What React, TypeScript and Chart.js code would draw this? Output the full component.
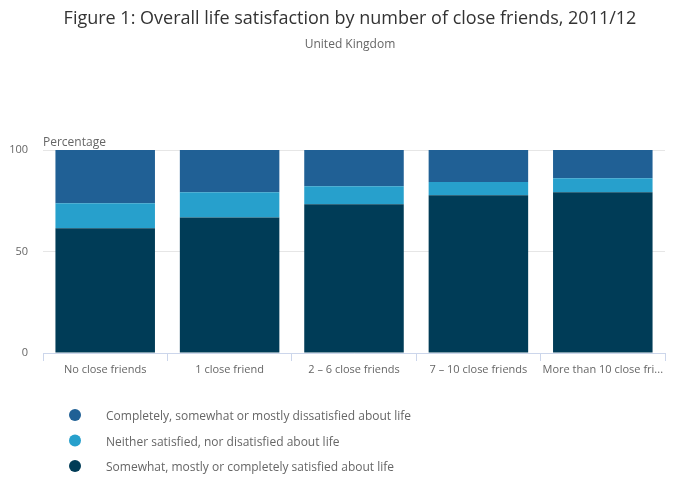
import React, { useEffect, useRef } from "react";
import { Chart, registerables } from "chart.js";

Chart.register(...registerables);

const categories = ["No close friends", "1 close friend", "2 – 6 close friends", "7 – 10 close friends", "More than 10 close friends"];
const satisfied = [61.4, 66.8, 73.3, 77.7, 79.2];
const neither = [12.4, 12.4, 8.9, 6.5, 6.9];
const dissatisfied = [26.2, 20.8, 17.8, 15.8, 13.9];
const seriesNames = [
  "Completely, somewhat or mostly dissatisfied about life",
  "Neither satisfied, nor disatisfied about life",
  "Somewhat, mostly or completely satisfied about life",
];
const seriesColors = ["#206095", "#27a0cc", "#003c57"];
const yTicks = [0, 50, 100];
const title = "Figure 1: Overall life satisfaction by number of close friends, 2011/12";
const subtitle = "United Kingdom";
const yTitle = "Percentage";

const FONT = "'Open Sans', 'Noto Sans', sans-serif";

const decorPlugin = {
  id: "decor",
  afterDraw(chart: any) {
    const ctx = chart.ctx;
    const area = chart.chartArea;
    ctx.save();
    ctx.textAlign = "center";
    ctx.textBaseline = "middle";
    ctx.fillStyle = "#333333";
    ctx.font = `18px ${FONT}`;
    ctx.fillText(title, chart.width / 2, 19);
    ctx.fillStyle = "#666666";
    ctx.font = `12px ${FONT}`;
    ctx.fillText(subtitle, chart.width / 2, 45);
    ctx.textAlign = "left";
    ctx.font = `12px ${FONT}`;
    ctx.fillText(yTitle, area.left, area.top - 7);
    // legend
    seriesNames.forEach((name, i) => {
      const y = 415 + i * 25.5;
      ctx.beginPath();
      ctx.arc(75, y, 6, 0, Math.PI * 2);
      ctx.fillStyle = seriesColors[i];
      ctx.fill();
      ctx.fillStyle = "#666666";
      ctx.font = `12px ${FONT}`;
      ctx.fillText(name, 106, y + 2);
    });
    ctx.restore();
  },
};

export default function App() {
  const ref = useRef<HTMLCanvasElement | null>(null);
  useEffect(() => {
    document.body.style.margin = "0";
    const chart = new Chart(ref.current as HTMLCanvasElement, {
      type: "bar",
      data: {
        labels: categories,
        datasets: [
          { label: seriesNames[2], data: satisfied, backgroundColor: seriesColors[2] },
          { label: seriesNames[1], data: neither, backgroundColor: seriesColors[1] },
          { label: seriesNames[0], data: dissatisfied, backgroundColor: seriesColors[0] },
        ],
      },
      options: {
        animation: false,
        responsive: false,
        maintainAspectRatio: false,
        layout: { padding: { top: 150, bottom: 119, left: 0, right: 35 } },
        datasets: { bar: { categoryPercentage: 1, barPercentage: 0.8 } },
        plugins: { legend: { display: false }, tooltip: { enabled: false } },
        scales: {
          x: {
            stacked: true,
            afterFit: (s: any) => { s.height = 30; },
            border: { display: true, color: "#ccd6eb" },
            grid: { offset: true, drawOnChartArea: false, drawTicks: true, tickLength: 8, color: "#ccd6eb" },
            ticks: {
              color: "#666666",
              font: { family: FONT, size: 11 },
              padding: 2,
              maxRotation: 0,
              autoSkip: false,
              callback: function (this: any, v: any) {
                const l = categories[v as number];
                return l.length > 22 ? l.slice(0, 22) + "..." : l;
              },
            },
          },
          y: {
            stacked: true,
            min: 0,
            max: 100,
            afterFit: (s: any) => { s.width = 43; },
            afterBuildTicks: (s: any) => { s.ticks = yTicks.map((v) => ({ value: v })); },
            border: { display: false },
            grid: { color: "#e6e6e6", drawTicks: false },
            ticks: { color: "#666666", font: { family: FONT, size: 11 }, padding: 15 },
          },
        },
      },
      plugins: [decorPlugin],
    });
    return () => chart.destroy();
  }, []);
  return <canvas ref={ref} width={700} height={502} style={{ display: "block" }} />;
}
